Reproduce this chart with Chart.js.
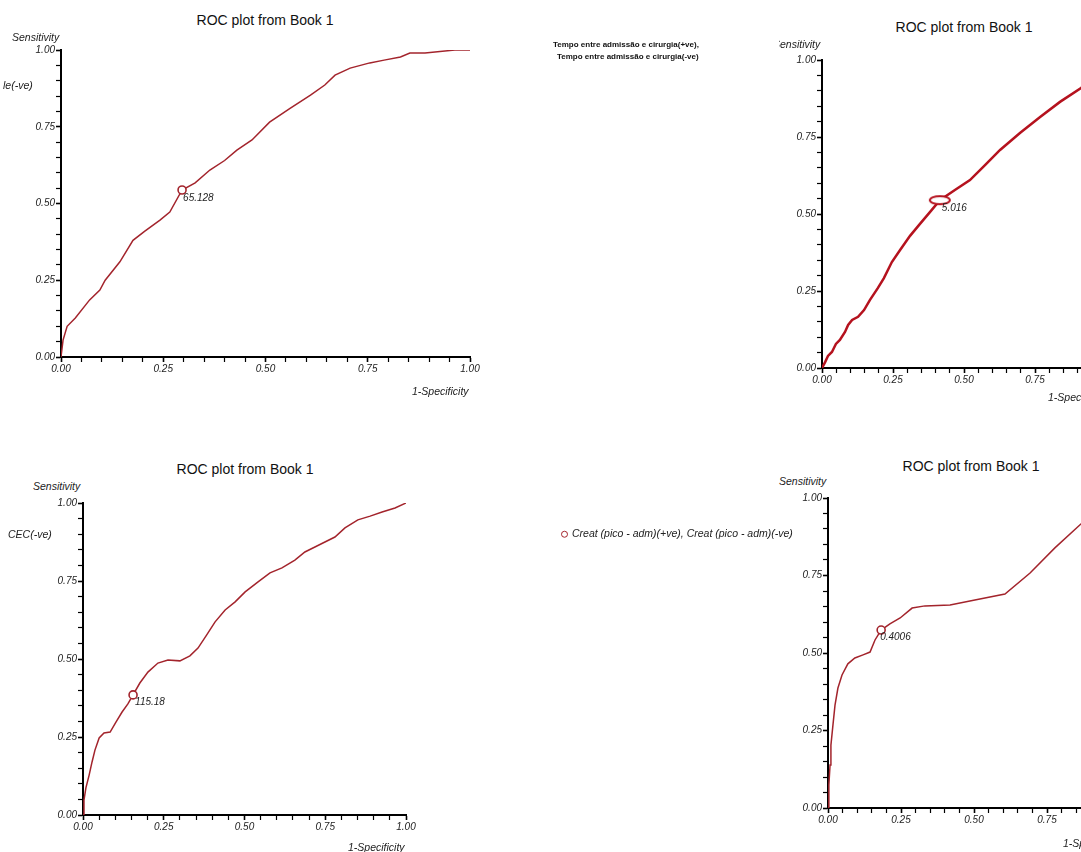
<!DOCTYPE html>
<html>
<head>
<meta charset="utf-8">
<script src="https://cdn.jsdelivr.net/npm/chart.js@4.4.0/dist/chart.umd.min.js"></script>
<style>
html, body { margin: 0; padding: 0; background: #fff; }
#page { position: relative; width: 1081px; height: 852px; overflow: hidden; background: #fff; font-family: "Liberation Sans", Arial, sans-serif; }
#page canvas { position: absolute; }
.txt { position: absolute; white-space: nowrap; color: #222; z-index: 2; line-height: 1; }
.title { font-size: 14px; color: #111; transform: translate(-50%, -50%); }
.ax { font-size: 10.5px; font-style: italic; transform: translateY(-50%); }
.leg2 { font-size: 8px; font-weight: bold; color: #111; transform: translateY(-50%); }
.dot { display: inline-block; width: 5px; height: 5px; border: 1.6px solid #a3242c; border-radius: 50%; vertical-align: -1px; margin-right: 4px; }
.clip { position: absolute; overflow: hidden; z-index: 2; height: 14px; }
</style>
</head>
<body>
<div id="page">
  <canvas id="roc1" width="469" height="347" style="left:16px; top:40px;"></canvas>
  <canvas id="roc2" width="344" height="348" style="left:777px; top:50px;"></canvas>
  <canvas id="roc3" width="383" height="352" style="left:38px; top:493px;"></canvas>
  <canvas id="roc4" width="352" height="350" style="left:783px; top:488px;"></canvas>

  <!-- top left -->
  <div class="txt title" style="left:265px; top:20px;">ROC plot from Book 1</div>
  <div class="txt ax" style="left:12px; top:37px;">Sensitivity</div>
  <div class="txt ax" style="left:3px; top:85px;">le(-ve)</div>
  <div class="txt ax" style="left:412px; top:391px;">1-Specificity</div>

  <!-- top right -->
  <div class="txt title" style="left:964px; top:27px;">ROC plot from Book 1</div>
  <div class="clip" style="left:779px; top:37px; width:60px;"><span class="txt ax" style="left:-6px; top:7px;">Sensitivity</span></div>
  <div class="txt leg2" style="left:553px; top:45px;">Tempo entre admissão e cirurgia(+ve),</div>
  <div class="txt leg2" style="left:557px; top:57px;">Tempo entre admissão e cirurgia(-ve)</div>
  <div class="txt ax" style="left:1048px; top:397px;">1-Specificity</div>

  <!-- bottom left -->
  <div class="txt title" style="left:245px; top:469px;">ROC plot from Book 1</div>
  <div class="txt ax" style="left:33px; top:486px;">Sensitivity</div>
  <div class="txt ax" style="left:8px; top:534px;">CEC(-ve)</div>
  <div class="txt ax" style="left:348px; top:847px;">1-Specificity</div>

  <!-- bottom right -->
  <div class="txt title" style="left:971px; top:466px;">ROC plot from Book 1</div>
  <div class="txt ax" style="left:779px; top:481px;">Sensitivity</div>
  <div class="txt ax" style="left:561px; top:533px;"><span class="dot"></span>Creat (pico - adm)(+ve), Creat (pico - adm)(-ve)</div>
  <div class="txt ax" style="left:1063px; top:843px;">1-Specificity</div>
</div>

<script>
// ROC curves (1-specificity, sensitivity)
const roc1X = [0, 0.005, 0.015, 0.035, 0.07, 0.095, 0.108, 0.144, 0.176, 0.205, 0.242, 0.266, 0.296, 0.328, 0.364, 0.40, 0.43, 0.467, 0.51, 0.56, 0.61, 0.645, 0.67, 0.707, 0.755, 0.79, 0.83, 0.853, 0.89, 0.963, 1.0];
const roc1Y = [0, 0.055, 0.10, 0.127, 0.186, 0.218, 0.25, 0.31, 0.38, 0.41, 0.446, 0.472, 0.544, 0.567, 0.609, 0.64, 0.674, 0.707, 0.765, 0.81, 0.853, 0.886, 0.918, 0.941, 0.958, 0.967, 0.977, 0.99, 0.99, 1.0, 1.0];

const roc2X = [0, 0.011, 0.021, 0.035, 0.049, 0.063, 0.081, 0.092, 0.106, 0.127, 0.148, 0.169, 0.197, 0.218, 0.246, 0.275, 0.31, 0.345, 0.38, 0.415, 0.468, 0.521, 0.574, 0.627, 0.697, 0.768, 0.838, 0.912, 1.0];
const roc2Y = [0, 0.019, 0.039, 0.052, 0.078, 0.091, 0.117, 0.14, 0.156, 0.166, 0.188, 0.221, 0.26, 0.292, 0.344, 0.383, 0.429, 0.468, 0.506, 0.545, 0.578, 0.61, 0.659, 0.708, 0.763, 0.815, 0.864, 0.909, 1.0];

const roc3X = [0, 0.003, 0.009, 0.019, 0.028, 0.037, 0.05, 0.065, 0.084, 0.102, 0.121, 0.139, 0.155, 0.176, 0.201, 0.232, 0.263, 0.3, 0.331, 0.356, 0.381, 0.409, 0.44, 0.471, 0.502, 0.542, 0.579, 0.616, 0.656, 0.687, 0.718, 0.749, 0.78, 0.811, 0.851, 0.889, 0.926, 0.966, 1.0];
const roc3Y = [0, 0.048, 0.087, 0.128, 0.17, 0.208, 0.247, 0.263, 0.266, 0.298, 0.33, 0.356, 0.385, 0.423, 0.458, 0.487, 0.497, 0.494, 0.51, 0.535, 0.574, 0.619, 0.657, 0.683, 0.715, 0.747, 0.776, 0.792, 0.817, 0.843, 0.859, 0.875, 0.891, 0.92, 0.946, 0.958, 0.971, 0.984, 1.0];

const roc4X = [0, 0.003, 0.007, 0.01, 0.017, 0.024, 0.034, 0.048, 0.068, 0.092, 0.12, 0.144, 0.161, 0.182, 0.212, 0.247, 0.288, 0.332, 0.418, 0.503, 0.606, 0.692, 0.777, 0.866, 1.0];
const roc4Y = [0, 0.074, 0.139, 0.203, 0.268, 0.332, 0.387, 0.429, 0.465, 0.484, 0.494, 0.503, 0.542, 0.574, 0.594, 0.613, 0.645, 0.652, 0.655, 0.671, 0.69, 0.758, 0.839, 0.916, 1.0];

// cut-off points marked on each curve
const cutX = [0.296, 0.415, 0.155, 0.182];
const cutY = [0.544, 0.545, 0.385, 0.574];
const cutLabels = ['65.128', '5.016', '115.18', '0.4006'];

// axis ticks
const majorTicks = [0, 0.25, 0.5, 0.75, 1];
const majorLabels = ['0.00', '0.25', '0.50', '0.75', '1.00'];

function majorIndex(v) {
    for (let i = 0; i < majorTicks.length; i++) {
        if (Math.abs(v - majorTicks[i]) < 1e-6) return i;
    }
    return -1;
}

const tickFont = { family: '"Liberation Sans", Arial, sans-serif', size: 10, style: 'italic' };

function axis(horizontal) {
    return {
        type: 'linear',
        min: 0,
        max: 1,
        afterFit: function (s) {
            if (horizontal) {
                s.height = 30;
                s.paddingLeft = 0;
                s.paddingRight = 0;
            } else {
                s.width = 45;
                s.paddingTop = 0;
                s.paddingBottom = 0;
            }
        },
        border: { color: '#000', width: 2 },
        grid: {
            drawOnChartArea: false,
            drawTicks: true,
            tickLength: 5,
            color: '#000',
            tickWidth: (c) => majorIndex(c.tick.value) >= 0 ? 1.6 : 1.2
        },
        ticks: {
            stepSize: 0.05,
            autoSkip: false,
            maxRotation: 0,
            padding: 1,
            color: '#222',
            font: tickFont,
            callback: function (v) {
                const i = majorIndex(v);
                return i >= 0 ? majorLabels[i] : '';
            }
        }
    };
}

const cutLabelPlugin = {
    id: 'cutLabel',
    afterDatasetsDraw(chart, args, opts) {
        const ctx = chart.ctx;
        const x = chart.scales.x.getPixelForValue(opts.x);
        const y = chart.scales.y.getPixelForValue(opts.y);
        ctx.save();
        ctx.font = 'italic 10px "Liberation Sans", Arial, sans-serif';
        ctx.fillStyle = '#222';
        ctx.textBaseline = 'middle';
        ctx.fillText(opts.text, x + opts.dx, y + opts.dy);
        ctx.restore();
    }
};

function ellipseMarker(color) {
    const c = document.createElement('canvas');
    c.width = 24;
    c.height = 12;
    const g = c.getContext('2d');
    g.beginPath();
    g.ellipse(12, 6, 10, 4, 0, 0, Math.PI * 2);
    g.fillStyle = '#fff';
    g.fill();
    g.lineWidth = 2;
    g.strokeStyle = color;
    g.stroke();
    return c;
}

function rocChart(id, xs, ys, k, color, width, marker, dx, dy) {
    const points = xs.map((x, i) => ({ x: x, y: ys[i] }));
    new Chart(document.getElementById(id), {
        type: 'line',
        data: {
            datasets: [
                {
                    data: [{ x: cutX[k], y: cutY[k] }],
                    showLine: false,
                    pointStyle: marker || 'circle',
                    pointRadius: 4,
                    pointBorderWidth: 1.6,
                    pointBorderColor: color,
                    pointBackgroundColor: '#fff'
                },
                {
                    data: points,
                    borderColor: color,
                    borderWidth: width,
                    tension: 0,
                    pointRadius: 0,
                    fill: false
                }
            ]
        },
        options: {
            responsive: false,
            animation: false,
            devicePixelRatio: 1,
            layout: { padding: { top: 10, right: 15, left: 0, bottom: 0 } },
            scales: { x: axis(true), y: axis(false) },
            plugins: {
                legend: { display: false },
                tooltip: { enabled: false },
                cutLabel: { x: cutX[k], y: cutY[k], text: cutLabels[k], dx: dx, dy: dy }
            }
        },
        plugins: [cutLabelPlugin]
    });
}

rocChart('roc1', roc1X, roc1Y, 0, '#a3242c', 1.5, null, 1, 8);
rocChart('roc2', roc2X, roc2Y, 1, '#b5121e', 2.5, ellipseMarker('#b5121e'), 2, 8);
rocChart('roc3', roc3X, roc3Y, 2, '#a3242c', 1.5, null, 2, 7);
rocChart('roc4', roc4X, roc4Y, 3, '#a3242c', 1.5, null, -1, 7);
</script>
</body>
</html>
